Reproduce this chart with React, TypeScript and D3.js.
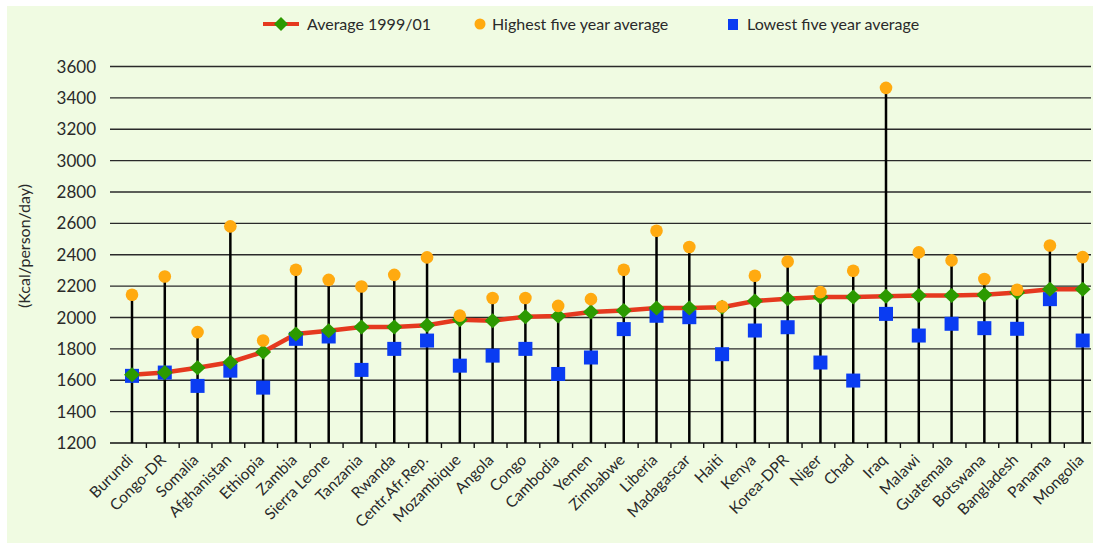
import React from "react";
import * as d3 from "d3";

const countries = [
  "Burundi", "Congo-DR", "Somalia", "Afghanistan", "Ethiopia", "Zambia", "Sierra Leone",
  "Tanzania", "Rwanda", "Centr.Afr.Rep.", "Mozambique", "Angola", "Congo", "Cambodia",
  "Yemen", "Zimbabwe", "Liberia", "Madagascar", "Haiti", "Kenya", "Korea-DPR", "Niger",
  "Chad", "Iraq", "Malawi", "Guatemala", "Botswana", "Bangladesh", "Panama", "Mongolia",
];
const average = [
  1635, 1650, 1680, 1715, 1780, 1895, 1915, 1940, 1940, 1950, 1985, 1980, 2005, 2010, 2035,
  2045, 2060, 2060, 2065, 2105, 2120, 2130, 2130, 2135, 2140, 2140, 2145, 2160, 2180, 2180,
];
const highest = [
  2145, 2261, 1907, 2581, 1853, 2304, 2240, 2198, 2272, 2383, 2012, 2124, 2124, 2074, 2117,
  2304, 2553, 2449, 2070, 2266, 2357, 2162, 2298, 3464, 2415, 2364, 2245, 2177, 2459, 2385,
];
const lowest = [
  1628, 1649, 1564, 1661, 1553, 1864, 1879, 1666, 1800, 1853, 1693, 1757, 1800, 1640, 1745,
  1926, 2011, 2002, 1766, 1917, 1938, 1713, 1598, 2023, 1885, 1960, 1932, 1928, 2117, 1853,
];
const yTicks = [1200, 1400, 1600, 1800, 2000, 2200, 2400, 2600, 2800, 3000, 3200, 3400, 3600];
const legendLabels = ["Average 1999/01", "Highest five year average", "Lowest five year average"];

const W = 1093;
const H = 544;
const FONT = "Lato, 'Open Sans', sans-serif";
const RED = "#e5391f";
const GREEN = "#2c9a00";
const ORANGE = "#ffaa10";
const BLUE = "#0a3cf2";

export default function App() {
  const x = d3.scalePoint<string>().domain(countries).range([132, 1082.7]).padding(0);
  const y = d3.scaleLinear().domain([1200, 3600]).range([443, 66.5]);
  const gridX0 = 110;
  const gridX1 = 1091;

  const line = d3
    .line<number>()
    .x((_, i) => x(countries[i]) as number)
    .y((d) => y(d));

  const diamond = (cx: number, cy: number, hw: number, hh: number) =>
    `M${cx},${cy - hh}L${cx + hw},${cy}L${cx},${cy + hh}L${cx - hw},${cy}Z`;

  const step = x.step();

  return (
    <svg
      width={W}
      height={H}
      style={{ position: "absolute", left: 0, top: 0, fontFamily: FONT }}
    >
      <rect x={7} y={6} width={W - 7} height={H - 7} fill="#f0fbe2" />

      {/* gridlines */}
      {yTicks.map((t) => (
        <line
          key={t}
          x1={gridX0}
          x2={gridX1}
          y1={y(t)}
          y2={y(t)}
          stroke={t === 1200 ? "#111" : "#2a2a2a"}
          strokeWidth={1.4}
        />
      ))}
      {yTicks.map((t) => (
        <text
          key={"l" + t}
          x={96}
          y={y(t)}
          dy="0.36em"
          textAnchor="end"
          fontSize={17}
          fill="#2a2a2a"
        >
          {t}
        </text>
      ))}
      <text
        transform={`translate(24,246) rotate(-90)`}
        textAnchor="middle"
        dy="0.36em"
        fontSize={16}
        fill="#2a2a2a"
      >
        (Kcal/person/day)
      </text>

      {/* x ticks */}
      {countries.slice(0, -1).map((c) => (
        <line
          key={"t" + c}
          x1={(x(c) as number) + step / 2 - 2}
          x2={(x(c) as number) + step / 2 - 2}
          y1={y(1200)}
          y2={y(1200) + 5}
          stroke="#111"
          strokeWidth={1.4}
        />
      ))}
      {countries.map((c) => (
        <text
          key={"x" + c}
          transform={`translate(${(x(c) as number) + 2},${461}) rotate(-45)`}
          textAnchor="end"
          fontSize={15.5}
          fill="#2a2a2a"
        >
          {c}
        </text>
      ))}

      {/* stems */}
      {countries.map((c, i) => (
        <line
          key={"s" + c}
          x1={x(c)}
          x2={x(c)}
          y1={y(1200)}
          y2={y(highest[i])}
          stroke="#000"
          strokeWidth={2.5}
        />
      ))}

      {/* average line */}
      <path d={line(average) || ""} fill="none" stroke={RED} strokeWidth={4.5} />

      {/* lowest squares */}
      {countries.map((c, i) => (
        <rect
          key={"q" + c}
          x={(x(c) as number) - 7}
          y={y(lowest[i]) - 7}
          width={14}
          height={14}
          fill={BLUE}
        />
      ))}
      {/* average diamonds */}
      {countries.map((c, i) => (
        <path key={"d" + c} d={diamond(x(c) as number, y(average[i]), 8, 7.5)} fill={GREEN} />
      ))}
      {/* highest circles */}
      {countries.map((c, i) => (
        <circle key={"c" + c} cx={x(c)} cy={y(highest[i])} r={6.3} fill={ORANGE} />
      ))}

      {/* legend */}
      <g fontSize={16} fill="#2a2a2a">
        <line x1={263} x2={299} y1={24} y2={24} stroke={RED} strokeWidth={4} />
        <path d={diamond(281, 24, 7, 7)} fill={GREEN} />
        <text x={307} y={24} dy="0.36em">
          {legendLabels[0]}
        </text>
        <circle cx={480} cy={24} r={5.5} fill={ORANGE} />
        <text x={492} y={24} dy="0.36em">
          {legendLabels[1]}
        </text>
        <rect x={728} y={19} width={10} height={11} fill={BLUE} />
        <text x={747} y={24} dy="0.36em">
          {legendLabels[2]}
        </text>
      </g>
    </svg>
  );
}
